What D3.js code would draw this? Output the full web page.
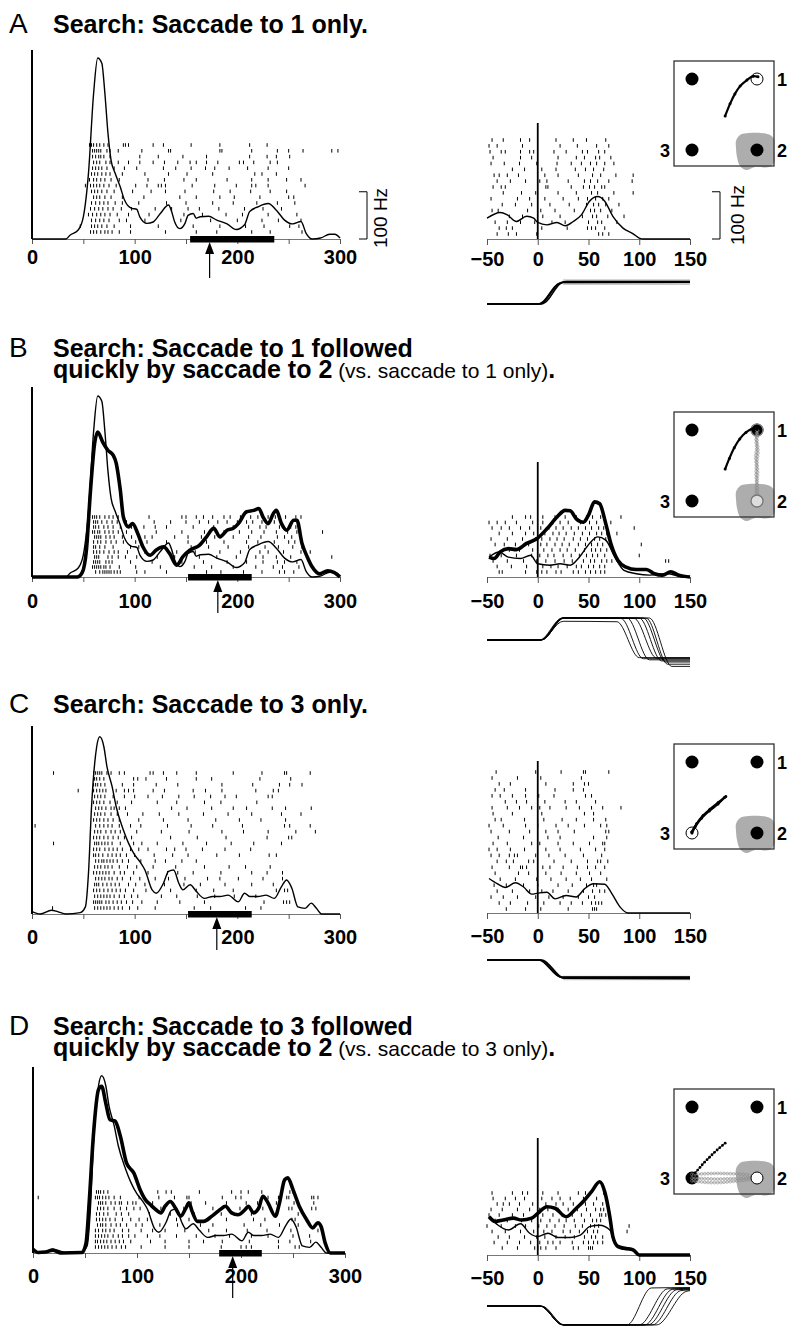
<!DOCTYPE html>
<html><head><meta charset="utf-8">
<script src="https://cdn.jsdelivr.net/npm/d3@7"></script>
<style>body{margin:0;background:#fff}svg{display:block}</style>
</head><body><svg id="fig" width="788" height="1327"></svg>
<script>
// ---------------- DATA ----------------
const xTicksLeft = [0,50,100,150,200,250,300];
const xLabelsLeft = [0,100,200,300];
const xTicksRight = [-50,0,50,100,150];
const scaleBarHz = 100;

const titleA = [[{t:"Search: Saccade to 1 only.",b:true}]];
const titleB = [[{t:"Search: Saccade to 1 followed",b:true}],[{t:"quickly by saccade to 2",b:true},{t:" (vs. saccade to 1 only)",b:false},{t:".",b:true}]];
const titleC = [[{t:"Search: Saccade to 3 only.",b:true}]];
const titleD = [[{t:"Search: Saccade to 3 followed",b:true}],[{t:"quickly by saccade to 2",b:true},{t:" (vs. saccade to 3 only)",b:false},{t:".",b:true}]];

// firing rates [ms, Hz] aligned on array onset
const rateA_left = [[0,0],[33,0],[37,8],[45,19],[50,47],[55,139],[60,308],[64,383],[68,372],[71,308],[74,224],[77,167],[81,139],[86,110],[90,83],[97,65],[102,63],[105,47],[112,33],[118,36],[125,54],[133,72],[136,58],[139,36],[144,22],[149,33],[152,50],[157,54],[160,44],[164,47],[172,48],[180,40],[190,32],[199,20],[207,30],[212,58],[220,68],[230,75],[238,61],[246,40],[254,32],[262,37],[267,12],[273,0],[281,2],[290,10],[295,10],[300,2]];
const rateB_left_thick = [[0,0],[44,0],[49,10],[53,57],[57,184],[61,283],[64,307],[69,285],[74,268],[79,258],[82,241],[86,184],[89,127],[94,106],[98,113],[103,92],[108,64],[115,46],[121,57],[128,64],[134,50],[141,25],[147,43],[154,57],[163,67],[170,85],[177,103],[183,85],[190,99],[196,103],[201,113],[209,138],[216,141],[221,145],[225,127],[230,113],[235,134],[238,141],[243,113],[248,99],[255,120],[258,120],[263,71],[268,43],[273,21],[280,7],[288,13],[294,10],[300,0]];
const rateC_left = [[0,5],[8,0],[19,8],[25,5],[33,0],[47,3],[52,15],[55,86],[58,227],[63,354],[66,375],[70,354],[73,312],[78,270],[82,227],[89,178],[94,150],[100,125],[105,111],[110,93],[117,51],[121,44],[128,65],[133,90],[138,93],[143,65],[147,51],[154,62],[160,48],[168,33],[176,37],[183,37],[191,40],[201,26],[207,44],[212,37],[220,37],[228,40],[236,33],[243,58],[248,72],[253,55],[259,15],[266,12],[272,23],[277,12],[282,0],[300,0]];
const rateD_left_thick = [[0,8],[5,1],[12,2],[19,6],[27,0],[47,1],[51,21],[54,106],[58,247],[63,346],[66,353],[70,317],[74,282],[79,279],[84,247],[90,190],[97,169],[103,134],[108,113],[113,102],[118,92],[123,85],[127,99],[132,109],[137,95],[142,78],[147,95],[150,106],[153,88],[158,67],[164,67],[172,78],[180,92],[185,99],[191,85],[197,81],[204,92],[207,99],[212,85],[217,95],[221,120],[226,106],[233,78],[237,106],[242,155],[245,159],[250,134],[256,99],[263,71],[269,53],[274,64],[277,56],[281,21],[286,0],[300,0]];

// firing rates [ms, Hz] aligned on saccade onset
const rateA_right = [[-50,44],[-37,56],[-30,51],[-21,37],[-11,48],[-4,44],[0,35],[9,30],[19,35],[27,28],[35,37],[43,51],[51,80],[59,90],[66,80],[74,48],[84,23],[94,11],[100,2],[104,0],[150,0]];
const rateB_right_thin = [[-48,42],[-38,53],[-29,42],[-17,39],[-7,46],[0,28],[12,25],[22,28],[32,25],[41,42],[51,71],[59,85],[67,78],[76,42],[85,14],[97,7],[110,4],[129,7],[142,0],[150,0]];
const rateB_right_thick = [[-48,42],[-43,39],[-37,53],[-29,60],[-21,58],[-11,71],[-1,81],[9,102],[19,127],[27,141],[32,140],[38,123],[45,116],[50,131],[56,159],[61,155],[67,113],[72,71],[79,35],[87,21],[97,16],[107,16],[115,7],[123,4],[131,11],[139,4],[150,0]];
const rateC_right = [[-48,73],[-40,62],[-32,54],[-22,64],[-14,55],[-6,40],[0,42],[9,44],[17,30],[28,37],[38,34],[46,51],[55,62],[66,61],[73,41],[81,13],[89,0],[150,0]];
const rateD_right_thin = [[-48,81],[-39,63],[-29,53],[-17,66],[-8,46],[0,39],[10,46],[20,37],[32,37],[42,42],[51,60],[61,63],[71,53],[77,25],[84,12],[92,11],[100,0],[150,0]];
const rateD_right_thick = [[-48,81],[-42,71],[-34,74],[-24,78],[-16,74],[-6,78],[0,88],[9,102],[17,99],[28,81],[38,99],[46,116],[53,134],[61,155],[66,134],[71,81],[74,39],[79,18],[87,14],[94,11],[100,0],[150,0]];

// reaction time bar [start, end] and mean saccade latency (ms)
const barA = [154,236], arrowA = 173;
const barB = [152,214], arrowB = 181;
const barC = [152,214], arrowC = 180;
const barD = [179,220], arrowD = 192;

// rasters: spike times (ms), one array per trial
const rasterA_left = [
[56,58,60,63,66,70,74,89,91,94,118,128,155,183,212,229],
[59,61,63,65,67,73,76,84,107,133,135,183,185,214,239,250,264,292,298],
[59,62,65,67,70,76,105,123,147,170,212,229,238,251],
[60,63,66,72,76,84,94,105,118,129,142,154,160,170,181,202,206,216,232,239],
[59,62,65,68,73,80,90,102,128,140,155,169,178,192,210,230,250],
[58,61,64,68,72,76,88,110,133,151,176,217,224,238],
[56,60,63,67,71,77,85,113,129,148,160,190,214,230,248,262],
[52,57,60,63,66,70,75,82,101,112,123,126,130,156,178,199,214,218,230,266],
[58,61,64,68,73,80,98,116,130,149,177,193,213,232,248],
[60,63,66,71,77,88,109,144,160,183,197,222,250,255],
[58,62,66,70,74,81,88,104,131,150,176,196,219,239,256],
[57,61,65,69,74,79,87,97,120,136,152,163,182,207,225,243],
[55,59,63,67,71,76,83,94,114,148,166,189,205,230,258],
[58,62,66,70,75,85,92,110,145,174,200,224,240,262],
[47,58,61,64,68,73,80,96,123,157,183,208,226,251,260],
[57,60,63,67,71,74,78,85,96,130,160,180,214,232,263]
];
const rasterA_right = [
[-45,-34,-17,-8,18,35,48,67],
[-48,-40,-15,22,39,58,70],
[-47,-36,-32,-17,-8,-4,16,28,44,49,60,66],
[-44,-17,-6,20,38,46,57,61,72],
[-46,-33,-18,-1,19,33,43,52,58,66,75],
[-25,-13,4,18,37,47,55,65],
[-43,-38,-30,-19,7,20,40,54,62,77,94],
[-40,-27,-12,2,9,30,46,52,59,70,93],
[-44,-36,-32,8,10,33,45,51,56,63,66],
[-34,-16,-2,20,38,53,59,75,94],
[-46,-20,-8,7,25,40,49,57,64,70],
[-35,-22,-6,12,31,48,55,60,67,80],
[-45,-39,-10,3,17,36,52,56,62,73],
[-28,-15,5,22,44,54,58,69,85],
[-42,-30,-17,-3,14,27,50,59,63,78],
[-38,-31,-25,4,29,49,53,57,66],
[-40,-29,-21,-1,60,64,70]
];
const rasterB_left = [
[59,61,63,66,71,75,79,84,114,146,150,160,167,176,187,193,203,213,220,230,237,247,257,262],
[60,62,64,68,73,78,83,92,119,135,150,163,172,181,190,200,209,215,224,236,243],
[60,62,65,70,74,79,86,97,109,120,131,157,177,196,211,222,228,241,252,257],
[59,61,64,66,71,75,79,84,92,103,121,146,168,187,202,214,226,238,249,258,283],
[61,63,65,67,72,76,80,88,97,110,117,139,152,165,178,196,211,223,239,246,253],
[60,64,67,72,77,82,89,101,112,131,152,170,187,209,220,236,250,256],
[60,62,66,71,79,96,104,128,155,172,191,211,227,240,254,263],
[60,63,66,70,75,80,84,93,110,141,159,183,203,222,230,245,262,271],
[61,63,65,74,78,84,91,102,122,139,163,180,199,218,225,238,252,292],
[60,62,64,66,72,75,78,96,117,146,167,190,209,225,239,246,258],
[59,61,63,65,67,70,72,76,85,101,125,158,175,196,218,235,244,260],
[62,66,69,71,73,75,77,80,83,86,102,110,131,170,184,206,224,241,246,255]
];
const rasterB_right = [
[-25,-12,-7,5,17,27,38,48,54,62,82],
[-48,-40,-32,-21,-5,5,15,22,30,42,51,58,66,72],
[-45,-36,-28,-17,-8,3,11,18,25,33,40,47,53,60,65,95],
[-38,-25,-12,-4,7,15,21,28,36,44,51,58,63,68,78],
[-46,-30,-15,-2,4,12,19,26,35,42,49,56,61,67],
[-42,-33,-22,-9,3,9,17,24,31,40,47,53,59,64,71,102],
[-28,-18,-5,6,14,22,29,37,46,53,57,62,68],
[-47,-36,-21,-6,2,10,16,25,33,41,48,54,59,66,100],
[-44,-30,-14,-1,8,17,26,34,45,52,56,63,68,73,126,129],
[-40,-26,-11,5,13,20,29,38,43,50,55,61,66],
[-38,-35,-12,-1,4,9,18,23,35,40,47,52,57,62,66]
];
const rasterC_left = [
[21,60,62,64,66,68,73,77,85,90,115,118,128,141,160,196,224,246,248,271],
[61,63,66,70,99,103,111,131,160,175,222,252],
[60,62,64,67,71,88,99,121,142,185,215,241,251,263],
[45,60,63,66,69,72,82,90,94,99,118,129,157,169,185,218,235,240],
[61,64,67,71,79,90,100,113,127,143,158,174,188,199,230,234],
[60,63,66,70,76,83,97,122,141,168,184,219],
[62,65,68,72,77,80,85,91,136,151,175,196,209,234,247,272],
[61,64,67,71,77,83,93,108,124,143,167,191,214,243,262],
[60,63,66,70,74,79,85,104,128,152,179,202,223,247],
[3,62,66,70,74,78,85,96,106,132,155,176,205,246,251,271],
[61,64,67,72,77,81,86,102,126,153,185,206,230,257,276],
[60,63,66,70,74,79,84,90,97,135,161,189,229,250,253],
[21,61,63,65,68,71,74,78,86,99,107,122,147,170,194,216,243],
[60,63,66,71,75,79,83,88,96,104,113,131,139,150,166,188,213],
[60,62,65,69,74,78,82,86,92,100,119,137,152,180,202,231,238],
[62,65,68,70,73,76,79,83,88,94,106,120,130,146,160],
[61,64,67,71,74,78,85,93,102,118,140,168,192,208,232],
[60,63,66,69,72,75,80,86,90,99,113,132,142,157,184,214,229,244],
[62,65,68,71,75,78,83,88,96,105,120,133,149,171,183,201,225,244],
[61,63,65,69,73,77,81,85,94,101,110,129,148,164,188,214,235],
[60,63,66,70,74,78,82,86,91,99,111,135,160,177,196,238,246,249],
[61,64,67,70,73,76,80,85,90,97,103,126,141,161,178,197,218],
[60,62,64,66,68,72,75,79,83,87,92,98,107,122,144,168,226,245,248,251],
[20,61,64,67,70,73,76,80,84,88,95,103,120,158,174,208,223]
];
const rasterC_right = [
[-41,-2,23,45,47,70],
[-45,-20,3,43],
[-38,-27,8,35,46,50],
[-42,-33,-12,17,35,45],
[-45,-37,-25,-12,1,16,47,53],
[-32,-21,-11,7,27,38,57],
[-45,-30,-18,-6,2,12,28,41,53,64,82],
[-44,-25,4,46,55],
[-42,-36,-13,6,24,38,55,67],
[-48,-34,-12,0,18,30,46,62,68],
[-46,-28,-8,8,20,36,67,70],
[-39,-14,10,22,55,68],
[-44,-30,-6,2,20,35,51,64,66],
[-48,-40,-27,-13,8,22,42,57,66],
[-46,-38,-28,-23,-20,-2,11,27,45,63],
[-40,-31,-24,-9,-4,16,33,49,59,62,69],
[-45,-28,-17,-15,-11,5,12,25,39,49,57,66],
[-42,-19,-9,8,23,38,51,62],
[-37,-22,-1,13,28,42,53,68],
[-43,-31,-14,0,20,34,48,55,58],
[-40,-25,-8,4,15,30,45,54,61,66],
[-46,-34,-20,-2,11,25,40,50,56],
[-38,-27,-10,6,22,33,44,53,57,60,63],
[-31,-12,3,30,54,56,58]
];
const rasterD_left = [
[61,63,65,68,72,120,128,133,160,191,200,207,220,247,250],
[5,60,62,64,67,70,73,78,84,102,107,121,136,148,150,182,195,200,226,236,244,246,268,270,274],
[63,65,67,70,75,79,83,85,91,96,99,115,134,152,166,186,205,216,234,251,270],
[62,65,68,72,78,84,90,97,103,123,145,173,199,221,246,249,268,272],
[61,64,68,72,80,85,92,112,132,155,181,210,235,255],
[61,64,67,70,74,79,86,94,102,110,138,150,186,212,223,249,252],
[62,65,67,70,75,80,84,90,99,105,122,139,161,173,203,219,237,255],
[60,63,67,70,74,78,86,92,104,115,127,146,169,186,206,225,248,274],
[60,63,66,69,72,77,82,86,92,98,110,122,138,157,175,189,210,226,250,266],
[60,62,65,68,71,75,79,83,87,94,113,127,150,164,182,208,236,247,267],
[60,63,66,69,72,76,80,85,89,104,127,150,181,200,205,210,236,252,256]
];
const rasterD_right = [
[-45,-25,-15,-10,5,20,40,47,65],
[-44,-32,-22,-13,4,14,22,32,45,58],
[-40,-34,-28,-18,-5,8,18,25,35,47,55,64],
[-46,-35,-20,-8,2,10,20,30,39,48,57,62,65],
[-48,-38,-25,-14,5,15,24,34,43,52,61,63,67],
[-42,-30,-16,-6,3,12,21,28,36,46,54,58,62],
[-50,-36,-22,-12,1,9,17,26,37,44,52,56,60,90],
[-45,-32,-17,-4,6,14,25,32,41,49,55,59,88],
[-39,-28,-13,-1,7,18,27,36,46,53,57,64],
[-43,-30,-18,-7,2,10,15,22,34,45,50,55,59,64],
[-35,-20,-3,0,3,8,18,35,40,50,52,54]
];

// eye position traces [ms, deg] aligned on saccade onset
const eyeA = [
[[-50,0],[2,0],[6,1],[20,9],[26,10],[150,10]],
[[-50,0],[4,0],[8,1],[22,9.2],[28,10.2],[150,10.2]],
[[-50,0],[1,0],[5,1],[19,8.8],[24,9.8],[150,9.9]]
];
const eyeBandA = [[25,8.6,11.2],[150,8.6,11.2]];
const eyeB = [
[[-50,0],[3,0],[25,8.5],[78,8.3],[100,-8],[150,-8]],
[[-50,0],[3,0],[25,10],[82,9.8],[104,-8.5],[150,-8.5]],
[[-50,0],[4,0],[26,10.1],[88,10],[110,-9],[150,-9]],
[[-50,0],[3,0],[25,9.9],[95,9.8],[117,-8.2],[150,-8.2]],
[[-50,0],[2,0],[24,10],[100,10],[122,-9.5],[150,-9.5]],
[[-50,0],[3,0],[25,10.2],[104,10],[126,-10],[150,-10]],
[[-50,0],[4,0],[26,10],[107,9.9],[128,-11],[150,-11]],
[[-50,0],[3,0],[25,10],[110,10],[132,-12],[150,-12]]
];
const eyeC = [
[[-50,0],[2,0],[24,-8],[150,-8]],
[[-50,0],[4,0],[26,-8.3],[150,-8.5]],
[[-50,0],[1,0],[23,-7.8],[150,-7.7]]
];
const eyeBandC = [[25,-9.2,-7.2],[150,-9.2,-7.2]];
const eyeD = [
[[-50,0],[2,0],[25,-8.6],[88,-8.6],[112,8.2],[150,8.4]],
[[-50,0],[3,0],[26,-8.6],[100,-8.6],[128,7.8],[150,8]],
[[-50,0],[2,0],[25,-8.7],[105,-8.7],[133,7.6],[150,7.8]],
[[-50,0],[3,0],[24,-8.5],[109,-8.5],[137,7.4],[150,7.6]],
[[-50,0],[2,0],[25,-8.6],[113,-8.6],[141,7],[150,7.3]],
[[-50,0],[4,0],[26,-8.6],[117,-8.6],[146,6.6],[150,7]]
];

// inset: target locations and eye trajectories (target units)
const targetPos = {TL:[-1,1], "1":[1,1], "2":[1,-1], "3":[-1,-1]};
const trajA = [[[0.02,-0.04],[0.17,0.3],[0.32,0.58],[0.48,0.8],[0.69,0.97],[0.88,1.08],[1.03,1.06]]];
const trajB_black = [[[0.02,-0.1],[0.15,0.2],[0.3,0.5],[0.47,0.75],[0.66,0.93],[0.85,1.03],[1.0,1.02]]];
const trajB_gray = [[[1.0,1.0],[0.97,0.75],[0.99,0.5],[0.96,0.25],[0.98,0.0],[0.97,-0.25],[0.99,-0.5],[0.98,-0.75],[1.0,-1.0]],[[1.02,0.98],[1.0,0.7],[1.03,0.4],[1.0,0.1],[1.02,-0.2],[1.0,-0.5],[1.02,-0.8],[1.0,-0.98]]];
const trajC = [[[0.04,0.03],[-0.19,-0.14],[-0.45,-0.33],[-0.66,-0.51],[-0.86,-0.74],[-1.01,-0.97]],[[0.0,0.0],[-0.2,-0.18],[-0.47,-0.38],[-0.7,-0.58],[-0.9,-0.82],[-1.0,-1.0]]];
const trajD_black = [[[0.02,-0.02],[-0.1,-0.11],[-0.2,-0.19],[-0.29,-0.26],[-0.4,-0.36],[-0.52,-0.47],[-0.65,-0.59],[-0.77,-0.72],[-0.88,-0.83],[-0.96,-0.92]]];
const trajD_gray = [[[-1,-0.9],[-0.6,-0.88],[-0.2,-0.87],[0.2,-0.88],[0.6,-0.9],[1,-0.97]],[[-1,-1.0],[-0.6,-1.02],[-0.2,-1.03],[0.2,-1.02],[0.6,-1.0],[1,-1.0]],[[-1,-1.08],[-0.6,-1.12],[-0.2,-1.13],[0.2,-1.1],[0.6,-1.06],[1,-1.02]]];

// ---------------- LAYOUT ----------------
const FONT = '"Liberation Sans", Arial, Helvetica, sans-serif';
const HZ_PX = 189/400;
const panels = [
 {letter:"A", title:titleA, titleY:33,
  left:{x0:32,x1:340,base:239,top:50,rTop:145,rBot:232,labelY:264,arrowEnd:278,raster:rasterA_left,thin:rateA_left,thick:null,bar:barA,arrow:arrowA},
  right:{base:239,vTop:123,rTop:140,rBot:234,labelY:266,eyeBase:304,raster:rasterA_right,thin:rateA_right,thick:null,eye:eyeA,band:eyeBandA},
  inset:{top:61,filled:["TL","2","3"],openBlack:["1"],openGray:[],ringGray:[],black:trajA,blackDotted:null,gray:null},
  scaleBars:true},
 {letter:"B", title:titleB, titleY:357,
  left:{x0:32,x1:340,base:577,top:387,rTop:517,rBot:572,labelY:608,arrowEnd:613,raster:rasterB_left,thin:rateA_left,thick:rateB_left_thick,bar:barB,arrow:arrowB},
  right:{base:577,vTop:462,rTop:517,rBot:572,labelY:608,eyeBase:640,raster:rasterB_right,thin:rateB_right_thin,thick:rateB_right_thick,eye:eyeB,band:null},
  inset:{top:412,filled:["TL","1","3"],openBlack:[],openGray:["2"],ringGray:["1"],black:trajB_black,blackDotted:null,gray:trajB_gray},
  scaleBars:false},
 {letter:"C", title:titleC, titleY:713,
  left:{x0:32,x1:340,base:914,top:726,rTop:773,rBot:908,labelY:944,arrowEnd:950,raster:rasterC_left,thin:rateC_left,thick:null,bar:barC,arrow:arrowC},
  right:{base:913,vTop:761,rTop:772,rBot:909,labelY:943,eyeBase:960,raster:rasterC_right,thin:rateC_right,thick:null,eye:eyeC,band:eyeBandC},
  inset:{top:744,filled:["TL","1","2"],openBlack:["3"],openGray:[],ringGray:[],black:trajC,blackDotted:null,gray:null},
  scaleBars:false},
 {letter:"D", title:titleD, titleY:1035,
  left:{x0:33,x1:345,base:1253,top:1067,rTop:1192,rBot:1247,labelY:1283,arrowEnd:1298,raster:rasterD_left,thin:rateC_left,thick:rateD_left_thick,bar:barD,arrow:arrowD},
  right:{base:1255,vTop:1138,rTop:1193,rBot:1248,labelY:1285,eyeBase:1306,raster:rasterD_right,thin:rateD_right_thin,thick:rateD_right_thick,eye:eyeD,band:null},
  inset:{top:1089,filled:["TL","1","3"],openBlack:["2"],openGray:[],ringGray:[],black:null,blackDotted:trajD_black,gray:trajD_gray},
  scaleBars:false}
];

// ---------------- DRAW ----------------
const svg = d3.select("#fig");
svg.append("rect").attr("width",788).attr("height",1327).attr("fill","#fff");

function drawRaster(g, x, rows, top, bot){
  const step = rows.length > 1 ? (bot - top) / (rows.length - 1) : 0;
  rows.forEach((r, i) => {
    const yy = top + i * step;
    g.append("g").selectAll("line").data(r).join("line")
      .attr("x1", d => x(d)).attr("x2", d => x(d))
      .attr("y1", yy - 1.8).attr("y2", yy + 1.8)
      .attr("stroke", "#000").attr("stroke-width", 1);
  });
}

function styleAxis(s, base, labelY){
  s.attr("font-family", FONT).attr("font-size", 20).attr("font-weight", "bold");
  s.select(".domain").attr("stroke", "#777").attr("stroke-width", 1);
  s.selectAll(".tick line").attr("stroke", "#555").attr("stroke-width", 1);
  s.selectAll(".tick text").attr("fill", "#000").attr("y", labelY - base).attr("dy", null);
}

function drawLeft(p){
  const c = p.left;
  const g = svg.append("g");
  const x = d3.scaleLinear().domain([0,300]).range([c.x0, c.x1]);
  const y = d3.scaleLinear().domain([0,400]).range([c.base, c.base - 400*HZ_PX]);
  drawRaster(g, x, c.raster, c.rTop, c.rBot);
  g.append("g").attr("transform", `translate(0,${c.base})`)
    .call(d3.axisBottom(x).tickValues(xTicksLeft).tickSize(5).tickSizeOuter(0)
      .tickFormat(d => xLabelsLeft.includes(d) ? d : ""))
    .call(s => styleAxis(s, c.base, c.labelY));
  g.append("line").attr("x1", c.x0).attr("x2", c.x0).attr("y1", c.top).attr("y2", c.base)
    .attr("stroke", "#000").attr("stroke-width", 2);
  const line = d3.line().x(d => x(d[0])).y(d => y(d[1])).curve(d3.curveMonotoneX);
  g.append("path").attr("d", line(c.thin)).attr("fill", "none").attr("stroke", "#000").attr("stroke-width", 1.4);
  if (c.thick) g.append("path").attr("d", line(c.thick)).attr("fill", "none").attr("stroke", "#000").attr("stroke-width", 3.6).attr("stroke-linejoin","round");
  g.append("rect").attr("x", x(c.bar[0])).attr("width", x(c.bar[1]) - x(c.bar[0]))
    .attr("y", c.base - 3).attr("height", 6.5).attr("fill", "#000");
  const ax = x(c.arrow);
  g.append("line").attr("x1", ax).attr("x2", ax).attr("y1", c.base + 12).attr("y2", c.arrowEnd)
    .attr("stroke", "#000").attr("stroke-width", 1.2);
  g.append("path").attr("d", `M${ax},${c.base+3} L${ax-4.5},${c.base+15} L${ax+4.5},${c.base+15}Z`).attr("fill", "#000");
  if (p.scaleBars) drawScaleBar(g, 367, c.base, y, 380, c.base - 21);
}

function drawScaleBar(g, bx, base, y, tx, ty){
  const top = y(scaleBarHz);
  g.append("path").attr("d", `M${bx-8},${top} H${bx} V${base} H${bx-8}`)
    .attr("fill", "none").attr("stroke", "#000").attr("stroke-width", 1);
  g.append("text").attr("transform", `translate(${tx},${ty}) rotate(-90)`)
    .attr("text-anchor", "middle").attr("dy", "0.35em")
    .attr("font-family", FONT).attr("font-size", 19).text(`${scaleBarHz} Hz`);
}

function drawRight(p){
  const c = p.right;
  const g = svg.append("g");
  const x = d3.scaleLinear().domain([-50,150]).range([487, 690]);
  const y = d3.scaleLinear().domain([0,400]).range([c.base, c.base - 400*HZ_PX]);
  drawRaster(g, x, c.raster, c.rTop, c.rBot);
  g.append("g").attr("transform", `translate(0,${c.base})`)
    .call(d3.axisBottom(x).tickValues(xTicksRight).tickSize(6).tickSizeOuter(0))
    .call(s => styleAxis(s, c.base, c.labelY));
  g.append("line").attr("x1", x(0)).attr("x2", x(0)).attr("y1", c.vTop).attr("y2", c.base)
    .attr("stroke", "#000").attr("stroke-width", 1.8);
  const line = d3.line().x(d => x(d[0])).y(d => y(d[1])).curve(d3.curveMonotoneX);
  g.append("path").attr("d", line(c.thin)).attr("fill", "none").attr("stroke", "#000").attr("stroke-width", 1.4);
  if (c.thick) g.append("path").attr("d", line(c.thick)).attr("fill", "none").attr("stroke", "#000").attr("stroke-width", 3.6).attr("stroke-linejoin","round");
  // eye traces
  const ey = d3.scaleLinear().domain([-10,10]).range([c.eyeBase + 22, c.eyeBase - 22]);
  if (c.band) {
    const area = d3.area().x(d => x(d[0])).y0(d => ey(d[1])).y1(d => ey(d[2]));
    g.append("path").attr("d", area(c.band)).attr("fill", "#c8c8c8");
  }
  const eline = d3.line().x(d => x(d[0])).y(d => ey(d[1])).curve(d3.curveMonotoneX);
  g.append("g").selectAll("path").data(c.eye).join("path")
    .attr("d", eline).attr("fill", "none").attr("stroke", "#000")
    .attr("stroke-width", c.eye.length > 3 ? 0.9 : 1.6);
  if (p.scaleBars) drawScaleBar(g, 720, c.base, y, 737, c.base - 24);
}

function drawInset(p){
  const c = p.inset;
  const g = svg.append("g");
  const ix = d3.scaleLinear().domain([-1,1]).range([692, 757]);
  const iy = d3.scaleLinear().domain([-1,1]).range([c.top + 89, c.top + 18]);
  const t2 = targetPos["2"];
  const bx = ix(t2[0]), by = iy(t2[1]);
  const blob = [[-21,-9],[-17,-15],[-8,-17],[4,-17],[13,-15],[17,-11],[17.5,0],[17.5,12],[12,17],[-2,17],[-11,20],[-17,16],[-20,7],[-21,-2]];
  g.append("path").attr("d", d3.line().curve(d3.curveCatmullRomClosed)(blob.map(d => [bx + d[0], by + d[1]])))
    .attr("fill", "#adadad");
  g.append("rect").attr("x", 674).attr("y", c.top).attr("width", 100).attr("height", 105)
    .attr("fill", "none").attr("stroke", "#333").attr("stroke-width", 1.3);
  const pos = k => [ix(targetPos[k][0]), iy(targetPos[k][1])];
  c.filled.forEach(k => g.append("circle").attr("cx", pos(k)[0]).attr("cy", pos(k)[1]).attr("r", 6.5).attr("fill", "#000"));
  const tl = d3.line().x(d => ix(d[0])).y(d => iy(d[1])).curve(d3.curveCatmullRom);
  if (c.gray) {
    c.gray.forEach(tr => {
      const path = g.append("path").attr("d", tl(tr)).attr("fill", "none").attr("stroke", "#aaa").attr("stroke-width", 0.6);
      const node = path.node(), L = node.getTotalLength();
      const pts = d3.range(0, L, 3.2).map(l => node.getPointAtLength(l));
      g.append("g").selectAll("circle").data(pts).join("circle")
        .attr("cx", d => d.x).attr("cy", d => d.y).attr("r", 1.4)
        .attr("fill", "none").attr("stroke", "#8a8a8a").attr("stroke-width", 0.6);
    });
  }
  c.ringGray.forEach(k => g.append("circle").attr("cx", pos(k)[0]).attr("cy", pos(k)[1]).attr("r", 6)
    .attr("fill", "none").attr("stroke", "#888").attr("stroke-width", 1.2));
  c.openGray.forEach(k => g.append("circle").attr("cx", pos(k)[0]).attr("cy", pos(k)[1]).attr("r", 6)
    .attr("fill", "#ddd").attr("stroke", "#777").attr("stroke-width", 1.3));
  c.openBlack.forEach(k => g.append("circle").attr("cx", pos(k)[0]).attr("cy", pos(k)[1]).attr("r", 6)
    .attr("fill", "#fff").attr("stroke", "#000").attr("stroke-width", 1));
  if (c.black) {
    c.black.forEach(tr => {
      g.append("path").attr("d", tl(tr)).attr("fill", "none").attr("stroke", "#000").attr("stroke-width", 2.2).attr("stroke-linecap","round");
      g.append("g").selectAll("circle").data(tr).join("circle")
        .attr("cx", d => ix(d[0])).attr("cy", d => iy(d[1])).attr("r", 1.5).attr("fill", "#000");
    });
  }
  if (c.blackDotted) {
    c.blackDotted.forEach(tr => {
      const path = g.append("path").attr("d", tl(tr)).attr("fill", "none").attr("stroke", "#000").attr("stroke-width", 1);
      const node = path.node(), L = node.getTotalLength();
      const pts = d3.range(0, L, 3.5).map(l => node.getPointAtLength(l));
      g.append("g").selectAll("circle").data(pts).join("circle")
        .attr("cx", d => d.x).attr("cy", d => d.y).attr("r", 1.4).attr("fill", "#000");
    });
  }
  const lab = (txt, xx, yy, anchor) => g.append("text").attr("x", xx).attr("y", yy).attr("text-anchor", anchor)
    .attr("font-family", FONT).attr("font-size", 18).attr("font-weight", "bold").text(txt);
  lab("1", 777, pos("1")[1] + 7, "start");
  lab("2", 777, pos("2")[1] + 7, "start");
  lab("3", 670, pos("3")[1] + 7, "end");
}

function drawTitle(p){
  svg.append("text").attr("x", 9).attr("y", p.titleY).attr("font-family", FONT)
    .attr("font-size", 28).attr("font-weight", "normal").text(p.letter);
  p.title.forEach((ln, i) => {
    const t = svg.append("text").attr("x", 53).attr("y", p.titleY + i * 21).attr("font-family", FONT);
    ln.forEach(seg => t.append("tspan").attr("font-weight", seg.b ? "bold" : "normal")
      .attr("font-size", seg.b ? 25 : 21).text(seg.t));
  });
}

panels.forEach(p => { drawTitle(p); drawLeft(p); drawRight(p); drawInset(p); });
</script></body></html>
